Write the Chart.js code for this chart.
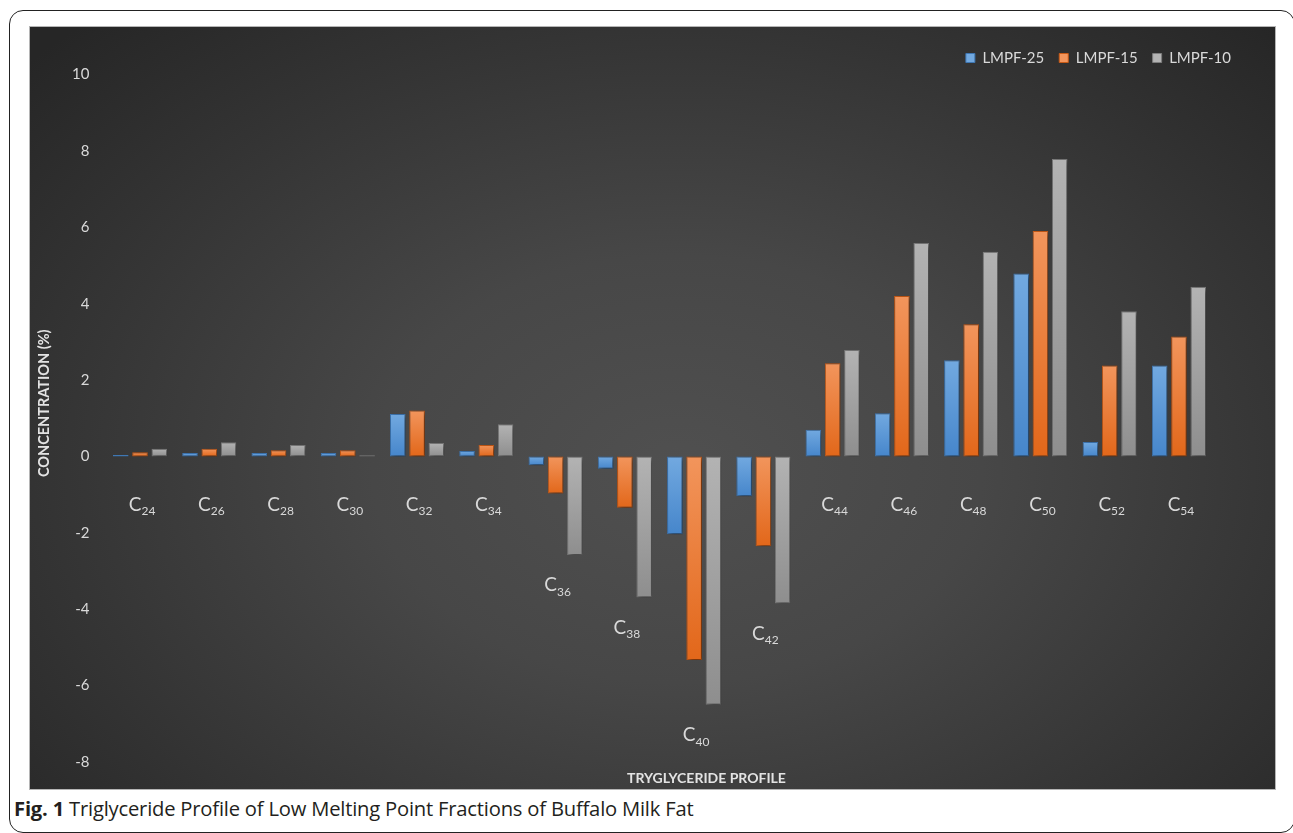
<!DOCTYPE html>
<html>
<head>
<meta charset="utf-8">
<script src="https://cdn.jsdelivr.net/npm/chart.js@4.4.0/dist/chart.umd.min.js"></script>
<style>
    html, body { margin: 0; padding: 0; background: #fff; width: 1293px; height: 833px; overflow: hidden; }
    .marco { position: absolute; left: 9px; top: 10px; width: 1286px; height: 823px; border: 1.5px solid #222; border-radius: 14px; box-sizing: border-box; }
    .grafico {
        position: absolute; left: 30px; top: 27px; width: 1245px; height: 762px;
        background: radial-gradient(ellipse 70% 80% at 52% 58%, #505050 0%, #474747 35%, #353535 70%, #262626 100%);
        outline: 1px solid #b5b5b5;
    }
    .legenda-fig { position: absolute; left: 14px; top: 794px; font: 20.2px "Open Sans", sans-serif; color: #231f20; white-space: nowrap; letter-spacing: -0.2px; }
</style>
</head>
<body>
<div class="marco"></div>
<div class="grafico"><canvas id="graficoTG"></canvas></div>
<div class="legenda-fig"><b>Fig. 1</b> Triglyceride Profile of Low Melting Point Fractions of Buffalo Milk Fat</div>
<script>
document.addEventListener("DOMContentLoaded", function () {

    // dados
    const categorias = ['24', '26', '28', '30', '32', '34', '36', '38', '40', '42', '44', '46', '48', '50', '52', '54'];
    const lmpf25 = [0.04, 0.09, 0.09, 0.09, 1.11, 0.14, -0.23, -0.32, -2.04, -1.04, 0.70, 1.13, 2.52, 4.79, 0.38, 2.38];
    const lmpf15 = [0.11, 0.20, 0.16, 0.16, 1.20, 0.30, -0.97, -1.34, -5.33, -2.35, 2.44, 4.20, 3.46, 5.90, 2.38, 3.14];
    const lmpf10 = [0.20, 0.37, 0.30, 0.03, 0.35, 0.84, -2.58, -3.69, -6.50, -3.85, 2.79, 5.59, 5.36, 7.79, 3.80, 4.44];
    const ticksY = [-8, -6, -4, -2, 0, 2, 4, 6, 8, 10];

    const corTexto = '#d9d9d9';
    Chart.defaults.font.family = 'Lato';

    // degradê vertical por barra (claro em cima, escuro embaixo)
    function gradiente(topo, base) {
        return function (ctx) {
            const chart = ctx.chart;
            const y = chart.scales.y;
            if (!y || ctx.raw == null) return topo;
            const y1 = y.getPixelForValue(Math.max(ctx.raw, 0));
            const y2 = y.getPixelForValue(Math.min(ctx.raw, 0));
            if (!isFinite(y1) || !isFinite(y2) || y2 - y1 < 1) return topo;
            const g = chart.ctx.createLinearGradient(0, y1, 0, y2);
            g.addColorStop(0, topo);
            g.addColorStop(1, base);
            return g;
        };
    }

    const sombra = {
        id: 'sombra',
        beforeDatasetsDraw(chart) {
            const c = chart.ctx;
            c.save();
            c.shadowColor = 'rgba(0,0,0,0.55)';
            c.shadowBlur = 5;
            c.shadowOffsetX = 2;
            c.shadowOffsetY = 2;
        },
        afterDatasetsDraw(chart) { chart.ctx.restore(); }
    };

    // rótulos C24, C26... abaixo de cada grupo + títulos dos eixos
    const rotulosC = {
        id: 'rotulosC',
        afterDatasetsDraw(chart) {
            const { ctx, scales: { x, y } } = chart;
            ctx.save();
            ctx.fillStyle = corTexto;
            ctx.textAlign = 'left';
            ctx.textBaseline = 'middle';
            categorias.forEach((num, i) => {
                const minimo = Math.min(0, lmpf25[i], lmpf15[i], lmpf10[i]);
                const cy = y.getPixelForValue(minimo) + (minimo < 0 ? 30 : 48);
                const cx = x.getPixelForValue(i);
                ctx.font = '19px Lato';
                const wC = ctx.measureText('C').width;
                ctx.font = '12px Lato';
                const wN = ctx.measureText(num).width;
                const x0 = cx - (wC + wN) / 2 + 2;
                ctx.font = '19px Lato';
                ctx.fillText('C', x0, cy);
                ctx.font = '12px Lato';
                ctx.fillText(num, x0 + wC, cy + 7);
            });
            ctx.fillStyle = '#e3e3e3';
            ctx.textAlign = 'center';
            // título do eixo x
            ctx.font = 'bold 14px Lato';
            ctx.fillText('TRYGLYCERIDE PROFILE', (x.left + x.right) / 2 + 47, chart.chartArea.bottom + 16);
            // título do eixo y
            ctx.translate(14, (y.top + y.bottom) / 2 - 15);
            ctx.rotate(-Math.PI / 2);
            ctx.font = 'bold 14.5px Lato';
            ctx.fillText('CONCENTRATION (%)', 0, 0);
            ctx.restore();
        }
    };

    // posiciona a legenda no canto superior direito
    const posLegenda = {
        id: 'posLegenda',
        afterLayout(chart) {
            const lg = chart.legend;
            if (!lg) return;
            const dx = 1216 - lg.right;
            const dy = 31 - (lg.top + 15 + 7.5);
            lg.left += dx; lg.right += dx;
            lg.top += dy; lg.bottom += dy;
        }
    };

    new Chart(document.getElementById('graficoTG'), {
        type: 'bar',
        data: {
            labels: categorias.map(n => 'C' + n),
            datasets: [
                { label: 'LMPF-25', data: lmpf25, backgroundColor: gradiente('#72a9e0', '#4686cb'), borderColor: '#3f77b3', borderWidth: 1, borderSkipped: false },
                { label: 'LMPF-15', data: lmpf15, backgroundColor: gradiente('#f2955c', '#e2671a'), borderColor: '#c85a16', borderWidth: 1, borderSkipped: false },
                { label: 'LMPF-10', data: lmpf10, backgroundColor: gradiente('#b3b3b3', '#8e8e8e'), borderColor: '#7d7d7d', borderWidth: 1, borderSkipped: false }
            ]
        },
        options: {
            responsive: true,
            maintainAspectRatio: false,
            animation: false,
            barPercentage: 0.81,
            categoryPercentage: 0.835,
            layout: { padding: { top: 7.5, right: 61.4, bottom: 0, left: 0 } },
            plugins: {
                legend: {
                    position: 'top',
                    align: 'end',
                    labels: { color: corTexto, font: { size: 15 }, boxWidth: 9, boxHeight: 9, padding: 15 }
                },
                tooltip: { enabled: false }
            },
            scales: {
                x: {
                    type: 'category',
                    ticks: { display: false },
                    grid: { display: false, drawTicks: false },
                    border: { display: false },
                    afterFit: s => { s.height = 27; }
                },
                y: {
                    min: -8,
                    max: 10,
                    afterBuildTicks: s => { s.ticks = ticksY.map(v => ({ value: v })); },
                    ticks: { color: corTexto, font: { size: 15 }, padding: 16 },
                    grid: { display: false, drawTicks: false },
                    border: { display: false },
                    afterFit: s => { s.width = 75.4; }
                }
            }
        },
        plugins: [sombra, rotulosC, posLegenda]
    });
});
</script>
</body>
</html>
